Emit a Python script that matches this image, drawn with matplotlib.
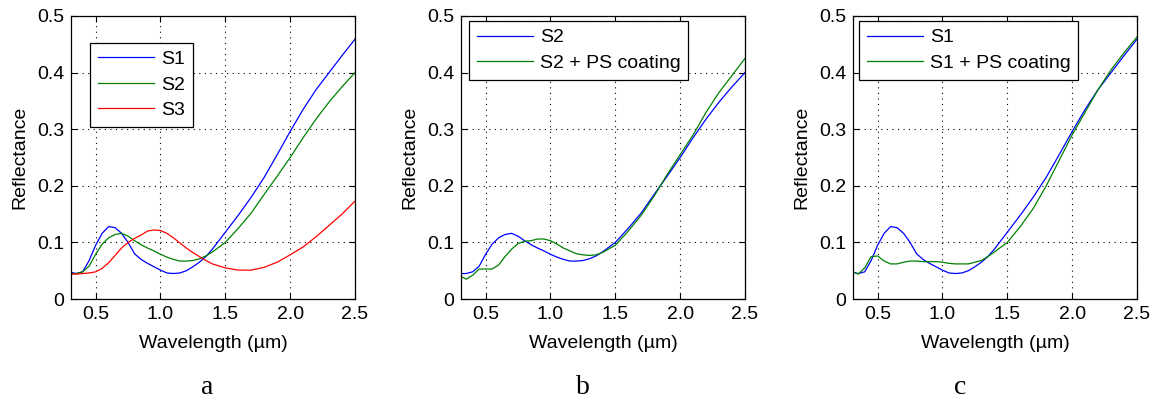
import numpy as np
import matplotlib
matplotlib.use("Agg")
import matplotlib.pyplot as plt

plt.rcParams["font.family"] = ["Liberation Sans", "DejaVu Sans"]

# wavelength grid (um), shared by all curves
wavelength = [0.31, 0.35, 0.40, 0.45, 0.50, 0.55, 0.60, 0.65, 0.70, 0.75,
              0.80, 0.85, 0.90, 0.95, 1.00, 1.05, 1.10, 1.15, 1.20, 1.25,
              1.30, 1.35, 1.40, 1.50, 1.60, 1.70, 1.80, 1.90, 2.00, 2.10,
              2.20, 2.30, 2.40, 2.50]

s1 = [0.047, 0.045, 0.048, 0.068, 0.095, 0.116, 0.128, 0.126, 0.116, 0.100,
      0.080, 0.070, 0.063, 0.057, 0.051, 0.046, 0.045, 0.046, 0.050, 0.057,
      0.065, 0.075, 0.088, 0.118, 0.148, 0.180, 0.215, 0.255, 0.296, 0.335,
      0.370, 0.400, 0.430, 0.459]

s2 = [0.045, 0.045, 0.048, 0.058, 0.079, 0.097, 0.108, 0.114, 0.116, 0.111,
      0.103, 0.096, 0.090, 0.085, 0.079, 0.074, 0.070, 0.067, 0.067, 0.068,
      0.071, 0.076, 0.083, 0.100, 0.125, 0.152, 0.185, 0.217, 0.250, 0.285,
      0.318, 0.348, 0.375, 0.400]

s3 = [0.044, 0.044, 0.045, 0.046, 0.048, 0.054, 0.064, 0.077, 0.090, 0.100,
      0.107, 0.113, 0.120, 0.122, 0.121, 0.116, 0.108, 0.099, 0.090, 0.082,
      0.075, 0.068, 0.062, 0.055, 0.051, 0.051, 0.056, 0.065, 0.078, 0.092,
      0.110, 0.130, 0.150, 0.173]

s2_coated = [0.040, 0.035, 0.042, 0.053, 0.053, 0.053, 0.060, 0.075, 0.088, 0.098,
             0.102, 0.103, 0.106, 0.106, 0.103, 0.097, 0.090, 0.085, 0.080, 0.078,
             0.077, 0.078, 0.082, 0.095, 0.120, 0.148, 0.182, 0.220, 0.255, 0.290,
             0.330, 0.365, 0.395, 0.425]

s1_coated = [0.048, 0.044, 0.055, 0.075, 0.076, 0.067, 0.062, 0.062, 0.065, 0.067,
             0.067, 0.066, 0.066, 0.066, 0.065, 0.063, 0.062, 0.062, 0.062, 0.065,
             0.068, 0.075, 0.083, 0.100, 0.128, 0.160, 0.200, 0.245, 0.290, 0.330,
             0.370, 0.405, 0.435, 0.463]

x_ticks = [0.5, 1.0, 1.5, 2.0, 2.5]
x_ticklabels = ["0.5", "1.0", "1.5", "2.0", "2.5"]
y_ticks = [0, 0.1, 0.2, 0.3, 0.4, 0.5]
y_ticklabels = ["0", "0.1", "0.2", "0.3", "0.4", "0.5"]
panel_labels = ["a", "b", "c"]

BLUE = (0, 0, 1)
GREEN = (0, 0.5, 0)
RED = (1, 0, 0)

panels = [
    [(s1, BLUE, "S1"), (s2, GREEN, "S2"), (s3, RED, "S3")],
    [(s2, BLUE, "S2"), (s2_coated, GREEN, "S2 + PS coating")],
    [(s1, BLUE, "S1"), (s1_coated, GREEN, "S1 + PS coating")],
]
lefts = [71, 461, 853]
legend_anchor = [(0.067, 0.905), (0.028, 0.982), (0.021, 0.982)]
label_x = [207, 583, 960]

W, H = 1154, 403
fig = plt.figure(figsize=(W / 100, H / 100), dpi=100)

for i, series in enumerate(panels):
    ax = fig.add_axes([lefts[i] / W, (H - 299) / H, 284 / W, 283 / H])
    for y, c, lab in series:
        ax.plot(wavelength, y, color=c, lw=0.9, label=lab)
    ax.set_xlim(0.31, 2.5)
    ax.set_ylim(0, 0.5)
    ax.set_xticks(x_ticks)
    ax.set_xticklabels(x_ticklabels)
    ax.set_yticks(y_ticks)
    ax.set_yticklabels(y_ticklabels)
    ax.tick_params(direction="in", length=4, width=0.8, top=True, right=True,
                   labelsize=14, pad=5)
    ax.grid(True, color="black", linestyle=(0, (1, 4)), linewidth=0.8)
    for sp in ax.spines.values():
        sp.set_linewidth(0.9)
    ax.set_xlabel("Wavelength (\u00b5m)", fontsize=14, labelpad=9)
    ax.set_ylabel("Reflectance", fontsize=14, labelpad=6)
    leg = ax.legend(loc="upper left", bbox_to_anchor=legend_anchor[i],
                    borderaxespad=0, fontsize=14, fancybox=False,
                    framealpha=1, edgecolor="black", handlelength=2.9,
                    handletextpad=0.35, labelspacing=0.4, borderpad=0.4)
    leg.get_frame().set_linewidth(0.9)
    fig.text(label_x[i] / W, (H - 387) / H, panel_labels[i], ha="center",
             va="center", fontsize=20, family=["Liberation Serif", "DejaVu Serif"])

fig.savefig("out.png", dpi=100)
